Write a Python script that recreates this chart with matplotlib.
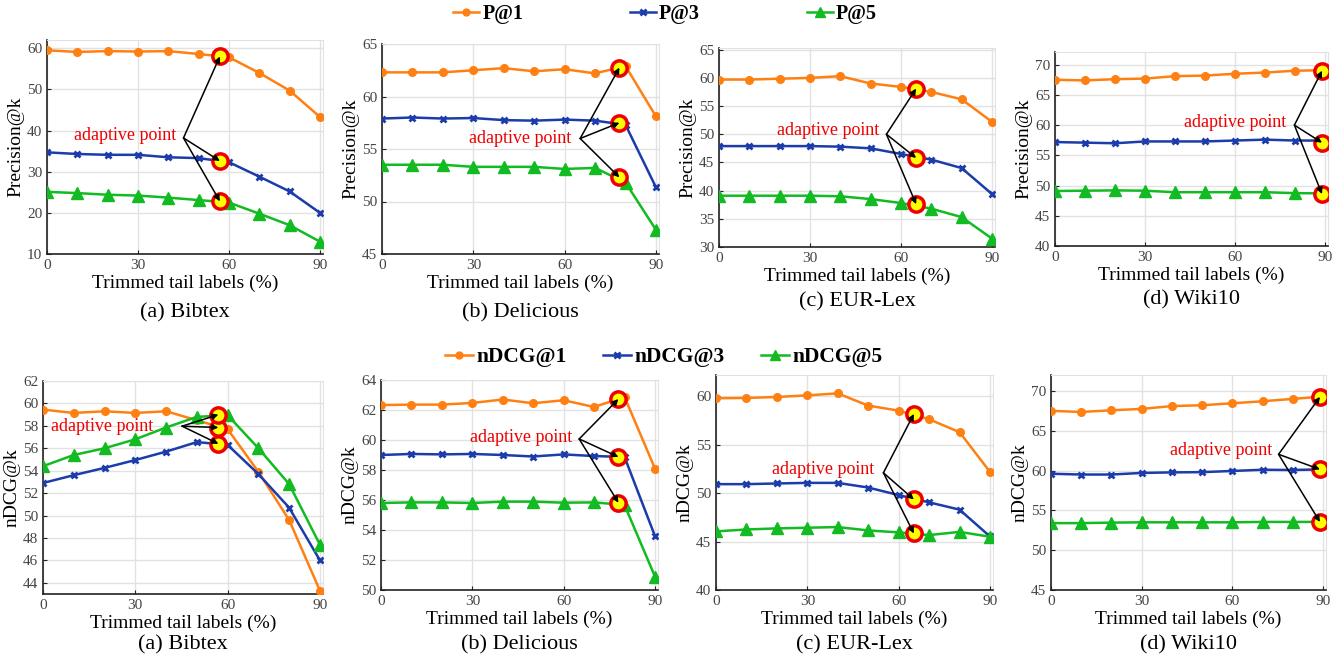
import matplotlib
matplotlib.use("Agg")
import matplotlib.pyplot as plt
from matplotlib.lines import Line2D
import numpy as np

plt.rcParams['font.family'] = ['Liberation Serif', 'DejaVu Serif']

W, H = 1340, 662

# ---------------- data ----------------
x_trim = [0, 10, 20, 30, 40, 50, 60, 70, 80, 90]
xticks = [0, 30, 60, 90]

# Precision@k (top row)
bib_p1 = [59.5, 59.1, 59.3, 59.2, 59.3, 58.6, 57.8, 54.0, 49.7, 43.3]
bib_p3 = [34.7, 34.3, 34.1, 34.1, 33.5, 33.3, 32.3, 28.8, 25.2, 20.0]
bib_p5 = [25.1, 24.8, 24.4, 24.2, 23.7, 23.1, 22.5, 19.8, 17.0, 13.0]
bib_p_adapt_x = 57
bib_p_adapt = [58.0, 32.6, 22.8]

del_p1 = [62.3, 62.3, 62.3, 62.5, 62.7, 62.4, 62.6, 62.2, 62.9, 58.1]
del_p3 = [57.9, 58.0, 57.9, 57.95, 57.75, 57.7, 57.8, 57.7, 57.3, 51.35]
del_p5 = [53.5, 53.5, 53.5, 53.3, 53.3, 53.3, 53.1, 53.2, 51.8, 47.3]
del_p_adapt_x = 78
del_p_adapt = [62.75, 57.5, 52.3]

eur_p1 = [59.7, 59.7, 59.85, 60.0, 60.3, 59.0, 58.4, 57.5, 56.2, 52.2]
eur_p3 = [47.9, 47.9, 47.9, 47.9, 47.8, 47.5, 46.5, 45.5, 44.0, 39.4]
eur_p5 = [39.1, 39.1, 39.1, 39.1, 39.0, 38.5, 37.8, 36.8, 35.3, 31.5]
eur_p_adapt_x = 65
eur_p_adapt = [58.1, 45.8, 37.6]

wik_p1 = [67.5, 67.4, 67.6, 67.7, 68.1, 68.2, 68.5, 68.7, 69.0, 69.1]
wik_p3 = [57.2, 57.1, 57.0, 57.3, 57.3, 57.3, 57.45, 57.6, 57.45, 57.45]
wik_p5 = [49.1, 49.15, 49.2, 49.15, 48.9, 48.9, 48.9, 48.9, 48.75, 48.7]
wik_p_adapt_x = 89
wik_p_adapt = [69.0, 57.1, 48.6]

# nDCG@k (bottom row)
bib_n1 = [59.45, 59.15, 59.3, 59.15, 59.3, 58.5, 57.7, 53.9, 49.6, 43.3]
bib_n3 = [52.9, 53.6, 54.25, 54.95, 55.7, 56.55, 56.3, 53.7, 50.7, 46.0]
bib_n5 = [54.4, 55.4, 56.0, 56.8, 57.85, 58.8, 58.95, 56.0, 52.8, 47.4]
bib_n_adapt_x = 57
bib_n_adapt = [57.85, 56.4, 59.0]

del_n1 = [62.33, 62.36, 62.36, 62.47, 62.7, 62.45, 62.65, 62.2, 62.87, 58.1]
del_n3 = [59.0, 59.07, 59.04, 59.07, 59.0, 58.9, 59.04, 58.93, 58.87, 53.6]
del_n5 = [55.8, 55.84, 55.84, 55.8, 55.89, 55.89, 55.82, 55.84, 55.67, 50.9]
del_n_adapt_x = 78
del_n_adapt = [62.73, 58.87, 55.82]

eur_n1 = [59.8, 59.83, 59.93, 60.1, 60.3, 59.04, 58.52, 57.63, 56.3, 52.2]
eur_n3 = [50.93, 50.93, 51.0, 51.06, 51.06, 50.58, 49.8, 49.05, 48.3, 45.53]
eur_n5 = [46.05, 46.25, 46.36, 46.43, 46.5, 46.15, 45.95, 45.67, 46.0, 45.5]
eur_n_adapt_x = 65
eur_n_adapt = [58.18, 49.35, 45.84]

wik_n1 = [67.5, 67.36, 67.57, 67.74, 68.1, 68.2, 68.45, 68.7, 69.0, 69.3]
wik_n3 = [59.6, 59.5, 59.5, 59.7, 59.77, 59.8, 59.95, 60.1, 60.07, 60.15]
wik_n5 = [53.4, 53.4, 53.46, 53.5, 53.5, 53.5, 53.5, 53.55, 53.55, 53.55]
wik_n_adapt_x = 89
wik_n_adapt = [69.25, 60.15, 53.55]

p_labels = ['P@1', 'P@3', 'P@5']
n_labels = ['nDCG@1', 'nDCG@3', 'nDCG@5']
captions = ['(a) Bibtex', '(b) Delicious', '(c) EUR-Lex', '(d) Wiki10']

# ---------------- style ----------------
colors = ['#FF8012', '#1B3CAA', '#12BB22']
markers = ['o', 'x', '^']
msizes = [5.5, 4.5, 8]
mews = [1, 2, 1]

fig = plt.figure(figsize=(W / 100, H / 100), dpi=100)


def add_ax(l, t, r, b):
    return fig.add_axes([l / W, 1 - b / H, (r - l) / W, (b - t) / H])


panels = [
    # (box l,t,r,b), ylim, ystep, series, adapt_x, adapt_vals, ylabel, origin, text (right x, y), caption_y
    ((47, 40, 323, 254), (10, 62), 10, [bib_p1, bib_p3, bib_p5], bib_p_adapt_x, bib_p_adapt,
     'Precision@k', (45, 38.2), (42.6, 38.7), 313),
    ((382, 44, 659, 254), (45, 65), 5, [del_p1, del_p3, del_p5], del_p_adapt_x, del_p_adapt,
     'Precision@k', (65.1, 56.0), (62.1, 56.0), 313),
    ((719, 48, 995, 247), (30, 65.3), 5, [eur_p1, eur_p3, eur_p5], eur_p_adapt_x, eur_p_adapt,
     'Precision@k', (55.2, 50.0), (52.8, 50.7), 302),
    ((1055, 52, 1328, 246), (40, 72.1), 5, [wik_p1, wik_p3, wik_p5], wik_p_adapt_x, wik_p_adapt,
     'Precision@k', (79.8, 60.0), (77.2, 60.5), 300),
    ((43, 381, 323, 594), (43, 62), 2, [bib_n1, bib_n3, bib_n5], bib_n_adapt_x, bib_n_adapt,
     'nDCG@k', (45.2, 57.97), (35.9, 57.9), 645),
    ((381, 380, 658, 590), (50, 64), 2, [del_n1, del_n3, del_n5], del_n_adapt_x, del_n_adapt,
     'nDCG@k', (65.1, 60.07), (62.9, 60.16), 645),
    ((716, 375, 993, 590), (40, 62.2), 5, [eur_n1, eur_n3, eur_n5], eur_n_adapt_x, eur_n_adapt,
     'nDCG@k', (55.0, 52.1), (51.9, 52.47), 645),
    ((1051, 375, 1326, 590), (45, 72), 5, [wik_n1, wik_n3, wik_n5], wik_n_adapt_x, wik_n_adapt,
     'nDCG@k', (75.3, 62.04), (73.1, 62.46), 645),
]

for i, (box, ylim, ystep, series, ax_x, ax_vals, ylab, origin, txt, cap_y) in enumerate(panels):
    ax = add_ax(*box)
    for s, c, m, ms, mew in zip(series, colors, markers, msizes, mews):
        ax.plot(x_trim, s, color=c, lw=1.8, marker=m, ms=ms, mew=mew, mfc=c, mec=c, zorder=3)
    ax.set_xlim(0, 91)
    ax.set_ylim(*ylim)
    ax.set_xticks(xticks)
    yt = np.arange(np.ceil(ylim[0] / ystep) * ystep, ylim[1] + 0.01, ystep)
    ax.set_yticks(yt)
    ax.set_yticklabels([f'{int(v)}' for v in yt])
    ax.grid(True, color='#e2e2e2', lw=1)
    ax.set_axisbelow(True)
    for sp in ['top', 'right']:
        ax.spines[sp].set_color('#e2e2e2')
    for sp in ['left', 'bottom']:
        ax.spines[sp].set_color('#222222')
        ax.spines[sp].set_linewidth(1.2)
    ax.tick_params(direction='in', length=3, labelsize=11, labelcolor='#444444', color='#222222')
    ax.set_xlabel('Trimmed tail labels (%)', fontsize=14, labelpad=2)
    ax.set_ylabel(ylab, fontsize=14, labelpad=2)
    # adaptive points
    ax.plot([ax_x] * 3, ax_vals, linestyle='none', marker='o', ms=11, mfc='#FFFF00',
            mec='#EE0000', mew=2.5, zorder=5)
    for v in ax_vals:
        ax.annotate('', xy=(ax_x, v), xytext=origin,
                    arrowprops=dict(arrowstyle='-|>', color='black', lw=1.1,
                                    mutation_scale=9, shrinkA=0, shrinkB=0), zorder=6)
    ax.text(txt[0], txt[1], 'adaptive point', color='#EE0000', fontsize=13,
            ha='right', va='center', zorder=7)
    cx = (box[0] + box[2]) / 2 / W
    fig.text(cx, 1 - cap_y / H, captions[i % 4], fontsize=16, ha='center', va='center')


def row_legend(labels, x_px, y_px, colspace, fs):
    handles = [Line2D([0], [0], color=c, lw=1.8, marker=m, ms=ms * 0.9, mew=mew, mfc=c, mec=c)
               for c, m, ms, mew in zip(colors, markers, msizes, mews)]
    fig.legend(handles, labels, loc='center', bbox_to_anchor=(x_px / W, 1 - y_px / H), ncol=3,
               frameon=False, columnspacing=colspace, handlelength=1.3, handletextpad=0.15,
               prop={'weight': 'bold', 'size': fs, 'family': 'Liberation Serif'})


row_legend(p_labels, 665, 14, 5.3, 14.5)
row_legend(n_labels, 664, 357, 1.7, 15.5)

fig.savefig('out.png', dpi=100)
